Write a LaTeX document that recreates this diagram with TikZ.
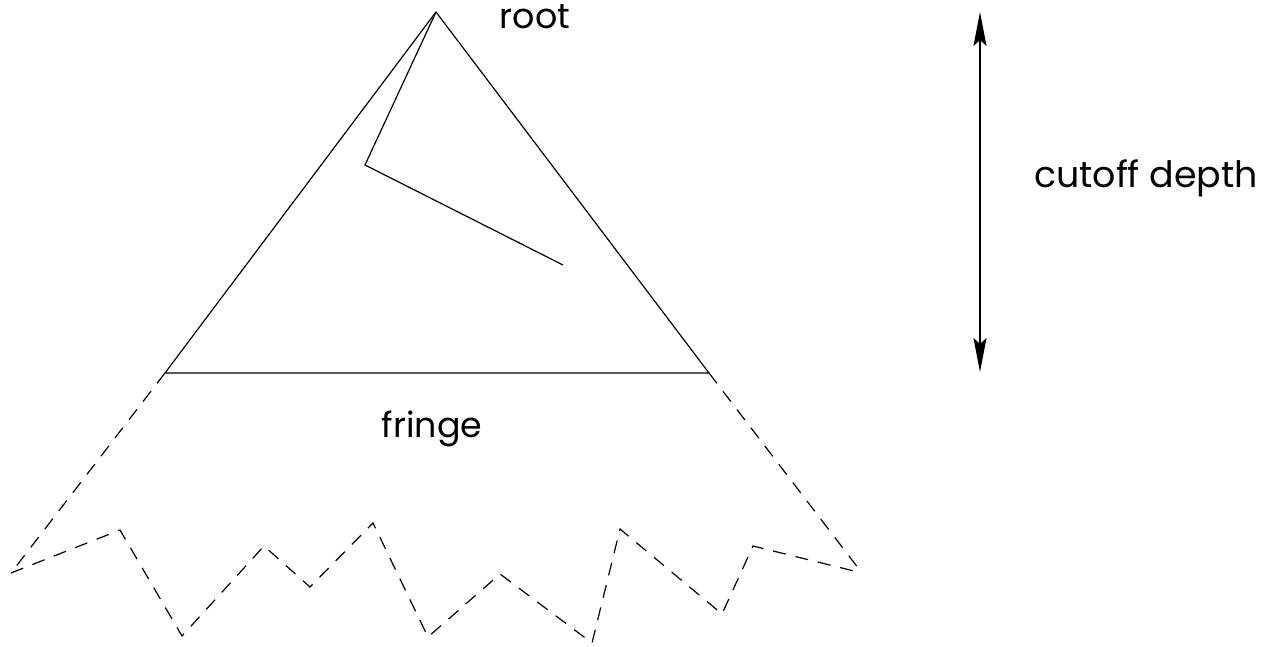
\documentclass[tikz,border=0pt]{standalone}
\usepackage{fontspec}
\setmainfont{Poppins}
\usetikzlibrary{arrows.meta,positioning}

\begin{document}
\begin{tikzpicture}[
  x=1bp, y=-1bp,
  edge/.style={line width=1.2bp, line join=miter},
  fringeline/.style={edge, dash pattern=on 13bp off 10bp},
  depth/.style={line width=1.2bp, {Stealth[length=34bp,width=13bp,inset=6bp]}-{Stealth[length=34bp,width=13bp,inset=6bp]}},
  label/.style={font=\fontsize{35}{40}\selectfont, anchor=base, inner sep=0pt}
]
\useasboundingbox (0,0) rectangle (1262,647);

% search tree above the cutoff
\coordinate (root) at (436,12);
\coordinate (bl) at (165,373);
\coordinate (br) at (709,373);
\coordinate (bend) at (365,165);
\coordinate (leaf) at (563,265);
\draw[edge] (bl) -- (root) -- (br) -- cycle;
\draw[edge] (root) -- (bend) -- (leaf);

% unexplored part below the fringe
\coordinate (fl) at (11,573);
\coordinate (fr) at (862,573);
\draw[fringeline] (bl) -- (fl);
\draw[fringeline] (br) -- (fr);
\draw[fringeline] (fl) -- (120,530) -- (182,636) -- (264,546) -- (310,587)
  -- (373,523) -- (428,637) -- (500,574) -- (592,643) -- (620,529)
  -- (722,614) -- (753,546) -- (fr);

% cutoff depth
\coordinate (dtop) at (980,12);
\coordinate (dbot) at (980,372);
\draw[depth] (dtop) -- (dbot);

\node[label] (rootlbl) at (535,29) {root};
\node[label] (fringelbl) at (432,437) {fringe};
\node[label, font=\fontsize{36.5}{40}\selectfont] (depthlbl) at (1146,188) {cutoff depth};
\end{tikzpicture}
\end{document}
